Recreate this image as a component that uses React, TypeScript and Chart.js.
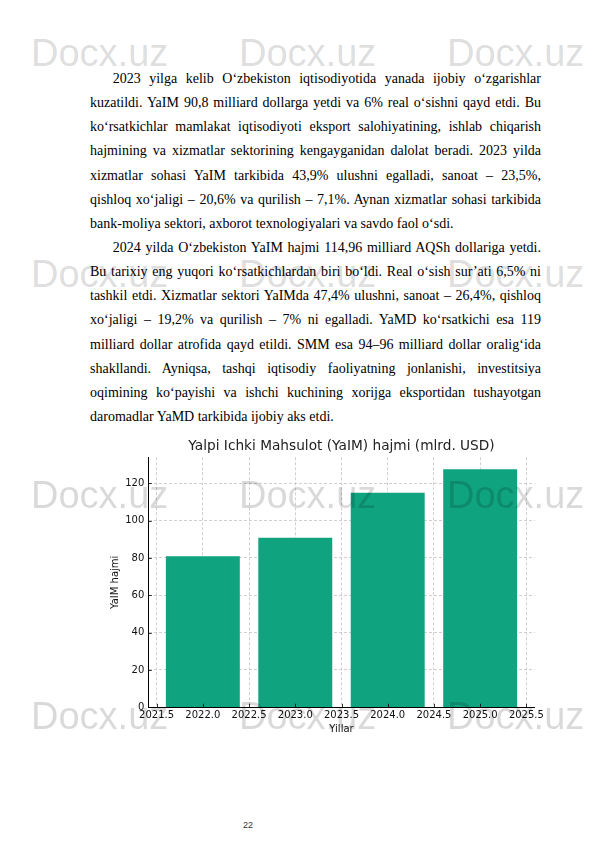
import { useEffect, useRef } from 'react';
import { Chart, registerables } from 'chart.js';

Chart.register(...registerables);

// chart data
const years = [2022, 2023, 2024, 2025];
const gdpValues = [80.9, 90.8, 114.96, 127.5];
const xTicks = [2021.5, 2022.0, 2022.5, 2023.0, 2023.5, 2024.0, 2024.5, 2025.0, 2025.5];
const yTicks = [0, 20, 40, 60, 80, 100, 120];

// page text, one entry per printed line
const para1 = [
    '2023 yilga kelib O‘zbekiston iqtisodiyotida yanada ijobiy o‘zgarishlar',
    'kuzatildi. YaIM 90,8 milliard dollarga yetdi va 6% real o‘sishni qayd etdi. Bu',
    'ko‘rsatkichlar mamlakat iqtisodiyoti eksport salohiyatining, ishlab chiqarish',
    'hajmining va xizmatlar sektorining kengayganidan dalolat beradi. 2023 yilda',
    'xizmatlar sohasi YaIM tarkibida 43,9% ulushni egalladi, sanoat – 23,5%,',
    'qishloq xo‘jaligi – 20,6% va qurilish – 7,1%. Aynan xizmatlar sohasi tarkibida',
    'bank-moliya sektori, axborot texnologiyalari va savdo faol o‘sdi.',
];
const para2 = [
    '2024 yilda O‘zbekiston YaIM hajmi 114,96 milliard AQSh dollariga yetdi.',
    'Bu tarixiy eng yuqori ko‘rsatkichlardan biri bo‘ldi. Real o‘sish sur’ati 6,5% ni',
    'tashkil etdi. Xizmatlar sektori YaIMda 47,4% ulushni, sanoat – 26,4%, qishloq',
    'xo‘jaligi – 19,2% va qurilish – 7% ni egalladi. YaMD ko‘rsatkichi esa 119',
    'milliard dollar atrofida qayd etildi. SMM esa 94–96 milliard dollar oralig‘ida',
    'shakllandi. Ayniqsa, tashqi iqtisodiy faoliyatning jonlanishi, investitsiya',
    'oqimining ko‘payishi va ishchi kuchining xorijga eksportidan tushayotgan',
    'daromadlar YaMD tarkibida ijobiy aks etdi.',
];

const watermarkRows = [66, 287, 508, 729];
const watermarkCols = [31, 239, 447];

const font = 'DejaVu Sans';

// matplotlib-like inward tick marks
const insideTicks = {
    id: 'insideTicks',
    afterDraw(chart: any) {
        const { ctx, chartArea, scales } = chart;
        ctx.save();
        ctx.strokeStyle = '#000';
        ctx.lineWidth = 0.8;
        scales.x.ticks.forEach((t: any) => {
            const px = Math.round(scales.x.getPixelForValue(t.value)) + 0.5;
            ctx.beginPath();
            ctx.moveTo(px, chartArea.bottom);
            ctx.lineTo(px, chartArea.bottom - 3.5);
            ctx.stroke();
        });
        scales.y.ticks.forEach((t: any) => {
            const py = Math.round(scales.y.getPixelForValue(t.value)) + 0.5;
            ctx.beginPath();
            ctx.moveTo(chartArea.left, py);
            ctx.lineTo(chartArea.left + 3.5, py);
            ctx.stroke();
        });
        ctx.restore();
    },
};

function GdpChart() {
    const chartRef = useRef<HTMLCanvasElement>(null);

    useEffect(() => {
        if (!chartRef.current) return;
        const ctx = chartRef.current.getContext('2d');
        if (!ctx) return;

        const chart = new Chart(ctx, {
            type: 'bar',
            data: {
                datasets: [{
                    data: years.map((y, i) => ({ x: y, y: gdpValues[i] })),
                    backgroundColor: '#10a37f',
                    // ruler spacing is the 0.5 tick step, so 1.6 gives 0.8 of a year
                    barPercentage: 1.6,
                    categoryPercentage: 1,
                }],
            },
            options: {
                responsive: false,
                animation: false,
                layout: { padding: 0 },
                plugins: {
                    legend: { display: false },
                    tooltip: { enabled: false },
                    title: {
                        display: true,
                        text: 'Yalpi Ichki Mahsulot (YaIM) hajmi (mlrd. USD)',
                        color: '#222',
                        font: { family: font, size: 13.7, weight: 'normal', lineHeight: 1.2 },
                        padding: { top: 8.5, bottom: 2.4 },
                    },
                },
                scales: {
                    x: {
                        type: 'linear',
                        min: 2021.41,
                        max: 2025.59,
                        offset: false,
                        z: 1,
                        afterBuildTicks: (s: any) => { s.ticks = xTicks.map(v => ({ value: v })); },
                        afterFit: (s: any) => {
                            s.height = 32.7;
                            s.paddingLeft = 0;
                            s.paddingRight = 48.3;
                        },
                        ticks: {
                            callback: (v: any) => Number(v).toFixed(1),
                            color: '#111',
                            font: { family: font, size: 10 },
                            padding: 2,
                            maxRotation: 0,
                            autoSkip: false,
                        },
                        grid: { color: '#c4c4c4', lineWidth: 0.8, drawTicks: false, offset: false },
                        border: { display: true, color: '#000', width: 1, dash: [3, 2] },
                        title: {
                            display: true,
                            text: 'Yillar',
                            color: '#111',
                            font: { family: font, size: 10 },
                            padding: { top: 0, bottom: 5 },
                        },
                    },
                    y: {
                        min: 0,
                        max: 133.875,
                        z: 1,
                        afterBuildTicks: (s: any) => { s.ticks = yTicks.map(v => ({ value: v })); },
                        afterFit: (s: any) => {
                            s.width = 48.3;
                            s.paddingTop = 0;
                            s.paddingBottom = 0;
                        },
                        ticks: {
                            color: '#111',
                            font: { family: font, size: 10 },
                            padding: 4,
                        },
                        grid: { color: '#c4c4c4', lineWidth: 0.8, drawTicks: false },
                        border: { display: true, color: '#000', width: 1, dash: [3, 2] },
                        title: {
                            display: true,
                            text: 'YaIM hajmi',
                            color: '#111',
                            font: { family: font, size: 10 },
                            padding: { top: 9.7, bottom: 0 },
                        },
                    },
                },
            },
            plugins: [insideTicks],
        });

        return () => {
            chart.destroy();
        };
    }, []);

    return (
        <canvas
            ref={chartRef}
            width={483}
            height={310}
            style={{ position: 'absolute', left: 100, top: 430, width: 483, height: 310 }}
        />
    );
}

const lineStyle = (last: boolean, indent: boolean): React.CSSProperties => ({
    textAlign: 'justify',
    textAlignLast: last ? 'left' : 'justify',
    textIndent: indent ? 22.7 : 0,
    whiteSpace: 'nowrap',
    height: 24.15,
});

export default function App() {
    return (
        <div style={{ position: 'absolute', left: 0, top: 0, width: 595, height: 842, background: '#fff', overflow: 'hidden' }}>
            <div
                style={{
                    position: 'absolute',
                    left: 90,
                    top: 67,
                    width: 451,
                    fontFamily: '"Liberation Serif", serif',
                    fontSize: 14,
                    lineHeight: '24.15px',
                    color: '#000',
                }}
            >
                {para1.map((t, i) => (
                    <div key={'a' + i} style={lineStyle(i === para1.length - 1, i === 0)}>{t}</div>
                ))}
                {para2.map((t, i) => (
                    <div key={'b' + i} style={lineStyle(i === para2.length - 1, i === 0)}>{t}</div>
                ))}
            </div>

            <GdpChart />

            <div
                style={{
                    position: 'absolute',
                    left: 243,
                    top: 821,
                    fontFamily: '"Liberation Sans", sans-serif',
                    fontSize: 9,
                    lineHeight: '9px',
                    color: '#333',
                }}
            >
                22
            </div>

            {watermarkRows.map(b =>
                watermarkCols.map(x => (
                    <div
                        key={b + '-' + x}
                        style={{
                            position: 'absolute',
                            left: x,
                            top: b - 32.2,
                            fontFamily: '"Liberation Sans", sans-serif',
                            fontSize: 38,
                            lineHeight: '38px',
                            color: 'rgba(0,0,0,0.15)',
                            pointerEvents: 'none',
                            whiteSpace: 'nowrap',
                        }}
                    >
                        Docx.uz
                    </div>
                ))
            )}
        </div>
    );
}
